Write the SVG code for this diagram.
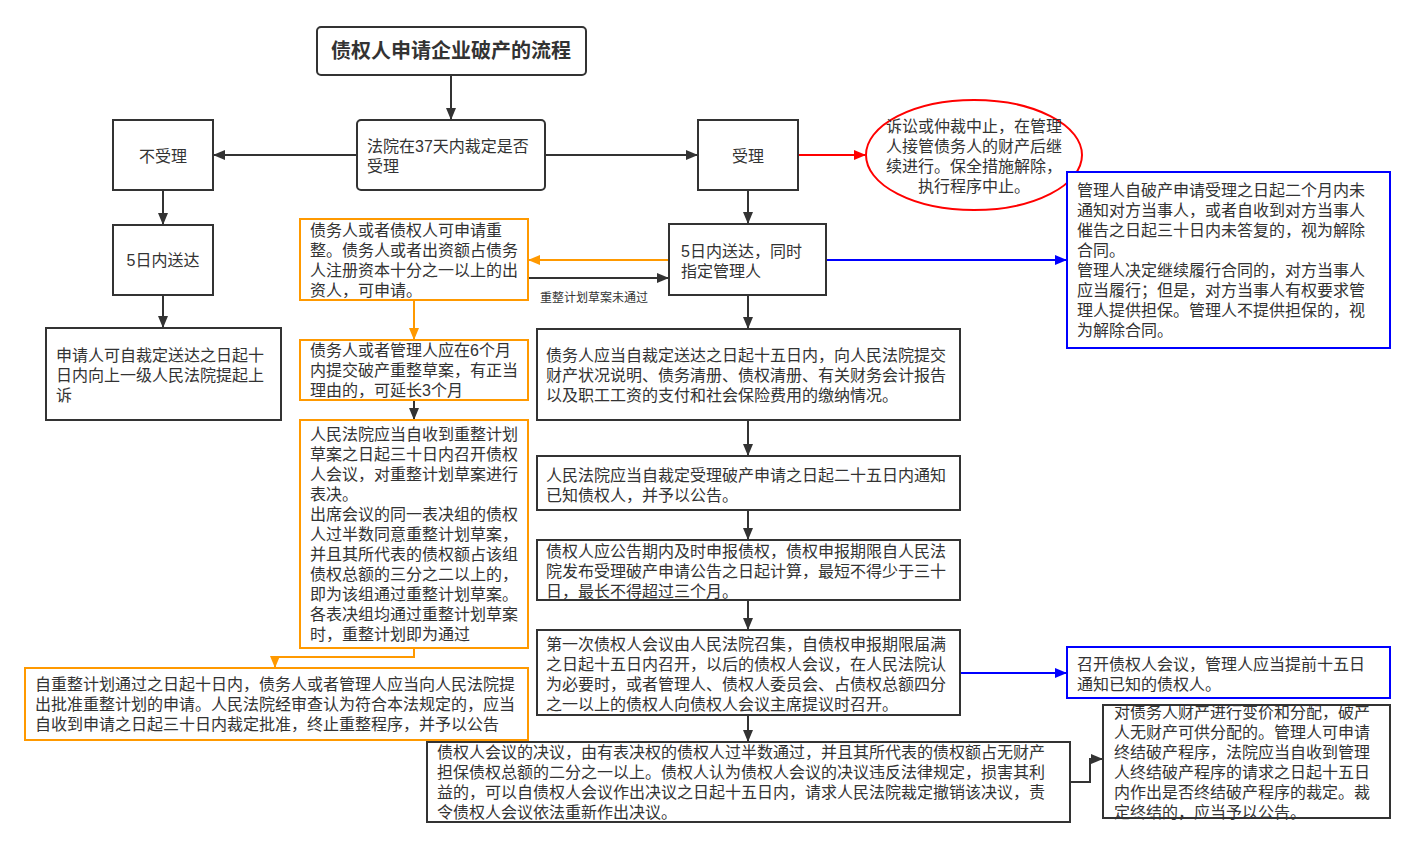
<svg xmlns="http://www.w3.org/2000/svg" width="1415" height="848" viewBox="0 0 1415 848">
<style>
.box{fill:#fff;stroke:#333;stroke-width:2}
.obox{fill:#fff;stroke:#FF9900;stroke-width:2}
.bbox{fill:#fff;stroke:#0000FF;stroke-width:2}
.t{font-family:"Liberation Sans","Noto Sans CJK SC",sans-serif;font-size:16px;fill:#333}
.c{text-anchor:middle}
.lk{fill:none;stroke:#333;stroke-width:2}
.lo{fill:none;stroke:#FF9900;stroke-width:2}
.lb{fill:none;stroke:#0000FF;stroke-width:2}
.lr{fill:none;stroke:#FF0000;stroke-width:2}
</style>
<defs>
<marker id="ak" markerUnits="userSpaceOnUse" markerWidth="12" markerHeight="10" refX="11" refY="5" orient="auto"><path d="M0,0 L12,5 L0,10 Z" fill="#333"/></marker>
<marker id="ao" markerUnits="userSpaceOnUse" markerWidth="12" markerHeight="10" refX="11" refY="5" orient="auto"><path d="M0,0 L12,5 L0,10 Z" fill="#FF9900"/></marker>
<marker id="ab" markerUnits="userSpaceOnUse" markerWidth="12" markerHeight="10" refX="11" refY="5" orient="auto"><path d="M0,0 L12,5 L0,10 Z" fill="#0000FF"/></marker>
<marker id="ar" markerUnits="userSpaceOnUse" markerWidth="12" markerHeight="10" refX="11" refY="5" orient="auto"><path d="M0,0 L12,5 L0,10 Z" fill="#FF0000"/></marker>
</defs>
<rect width="1415" height="848" fill="#fff"/>

<g id="connectors">
<path class="lk" d="M451,75 V119" marker-end="url(#ak)"/>
<path class="lk" d="M357,155 H214" marker-end="url(#ak)"/>
<path class="lk" d="M545,155 H697" marker-end="url(#ak)"/>
<path class="lr" d="M798,155 H865" marker-end="url(#ar)"/>
<path class="lk" d="M163,190 V224" marker-end="url(#ak)"/>
<path class="lk" d="M163,295 V327" marker-end="url(#ak)"/>
<path class="lk" d="M748,190 V223" marker-end="url(#ak)"/>
<path class="lb" d="M826,260 H1066" marker-end="url(#ab)"/>
<path class="lo" d="M669,260 H529" marker-end="url(#ao)"/>
<path class="lk" d="M528,278 H668" marker-end="url(#ak)"/>
<text class="t" x="540" y="302" style="font-size:12px">重整计划草案未通过</text>
<path class="lo" d="M414,300 V339" marker-end="url(#ao)"/>
<path class="lk" d="M414,400 V419" marker-end="url(#ak)"/>
<path class="lo" d="M414,648 V657 H275 V667" marker-end="url(#ao)"/>
<path class="lk" d="M748,295 V328" marker-end="url(#ak)"/>
<path class="lk" d="M748,420 V455" marker-end="url(#ak)"/>
<path class="lk" d="M748,510 V539" marker-end="url(#ak)"/>
<path class="lk" d="M748,600 V629" marker-end="url(#ak)"/>
<path class="lb" d="M960,673 H1066" marker-end="url(#ab)"/>
<path class="lk" d="M748,715 V741" marker-end="url(#ak)"/>
<path class="lk" d="M1070,782 H1090 V759 H1102" marker-end="url(#ak)"/>
</g>

<g id="title">
<rect class="box" x="317" y="27" width="269" height="48" rx="4"/>
<text class="t c" x="451" y="58" style="font-size:20px;font-weight:bold">债权人申请企业破产的流程</text>
</g>

<g id="court">
<rect class="box" x="357" y="120" width="188" height="70" rx="4"/>
<text class="t" x="367" y="152">法院在37天内裁定是否<tspan x="367" dy="20">受理</tspan></text>
</g>

<g id="reject">
<rect class="box" x="113" y="120" width="100" height="70"/>
<text class="t c" x="163" y="162">不受理</text>
</g>

<g id="accept">
<rect class="box" x="698" y="120" width="100" height="70"/>
<text class="t c" x="748" y="162">受理</text>
</g>

<g id="suspend">
<ellipse cx="974" cy="155" rx="108" ry="55" fill="#fff" stroke="#FF0000" stroke-width="2"/>
<text class="t c" x="974" y="132">诉讼或仲裁中止，在管理<tspan x="974" dy="20">人接管债务人的财产后继</tspan><tspan x="974" dy="20">续进行。保全措施解除，</tspan><tspan x="974" dy="20">执行程序中止。</tspan></text>
</g>

<g id="contract">
<rect class="bbox" x="1067" y="172" width="323" height="176"/>
<text class="t" x="1077" y="196">管理人自破产申请受理之日起二个月内未<tspan x="1077" dy="20">通知对方当事人，或者自收到对方当事人</tspan><tspan x="1077" dy="20">催告之日起三十日内未答复的，视为解除</tspan><tspan x="1077" dy="20">合同。</tspan><tspan x="1077" dy="20">管理人决定继续履行合同的，对方当事人</tspan><tspan x="1077" dy="20">应当履行；但是，对方当事人有权要求管</tspan><tspan x="1077" dy="20">理人提供担保。管理人不提供担保的，视</tspan><tspan x="1077" dy="20">为解除合同。</tspan></text>
</g>

<g id="deliver-left">
<rect class="box" x="113" y="225" width="100" height="70"/>
<text class="t c" x="163" y="266">5日内送达</text>
</g>

<g id="appeal">
<rect class="box" x="46" y="328" width="235" height="92"/>
<text class="t" x="56" y="361">申请人可自裁定送达之日起十<tspan x="56" dy="20">日内向上一级人民法院提起上</tspan><tspan x="56" dy="20">诉</tspan></text>
</g>

<g id="deliver-right">
<rect class="box" x="669" y="224" width="157" height="71"/>
<text class="t" x="681" y="257">5日内送达，同时<tspan x="681" dy="20">指定管理人</tspan></text>
</g>

<g id="reorg-apply">
<rect class="obox" x="300" y="219" width="228" height="81"/>
<text class="t" x="310" y="236">债务人或者债权人可申请重<tspan x="310" dy="20">整。债务人或者出资额占债务</tspan><tspan x="310" dy="20">人注册资本十分之一以上的出</tspan><tspan x="310" dy="20">资人，可申请。</tspan></text>
</g>

<g id="reorg-draft">
<rect class="obox" x="300" y="340" width="228" height="60"/>
<text class="t" x="310" y="356">债务人或者管理人应在6个月<tspan x="310" dy="20">内提交破产重整草案，有正当</tspan><tspan x="310" dy="20">理由的，可延长3个月</tspan></text>
</g>

<g id="reorg-vote">
<rect class="obox" x="300" y="420" width="228" height="228"/>
<text class="t" x="310" y="440">人民法院应当自收到重整计划<tspan x="310" dy="20">草案之日起三十日内召开债权</tspan><tspan x="310" dy="20">人会议，对重整计划草案进行</tspan><tspan x="310" dy="20">表决。</tspan><tspan x="310" dy="20">出席会议的同一表决组的债权</tspan><tspan x="310" dy="20">人过半数同意重整计划草案，</tspan><tspan x="310" dy="20">并且其所代表的债权额占该组</tspan><tspan x="310" dy="20">债权总额的三分之二以上的，</tspan><tspan x="310" dy="20">即为该组通过重整计划草案。</tspan><tspan x="310" dy="20">各表决组均通过重整计划草案</tspan><tspan x="310" dy="20">时，重整计划即为通过</tspan></text>
</g>

<g id="reorg-approve">
<rect class="obox" x="25" y="668" width="503" height="72"/>
<text class="t" x="35" y="690">自重整计划通过之日起十日内，债务人或者管理人应当向人民法院提<tspan x="35" dy="20">出批准重整计划的申请。人民法院经审查认为符合本法规定的，应当</tspan><tspan x="35" dy="20">自收到申请之日起三十日内裁定批准，终止重整程序，并予以公告</tspan></text>
</g>

<g id="submit">
<rect class="box" x="537" y="329" width="423" height="91"/>
<text class="t" x="546" y="361">债务人应当自裁定送达之日起十五日内，向人民法院提交<tspan x="546" dy="20">财产状况说明、债务清册、债权清册、有关财务会计报告</tspan><tspan x="546" dy="20">以及职工工资的支付和社会保险费用的缴纳情况。</tspan></text>
</g>

<g id="notify">
<rect class="box" x="537" y="456" width="423" height="54"/>
<text class="t" x="546" y="481">人民法院应当自裁定受理破产申请之日起二十五日内通知<tspan x="546" dy="20">已知债权人，并予以公告。</tspan></text>
</g>

<g id="declare">
<rect class="box" x="537" y="540" width="423" height="60"/>
<text class="t" x="546" y="557">债权人应公告期内及时申报债权，债权申报期限自人民法<tspan x="546" dy="20">院发布受理破产申请公告之日起计算，最短不得少于三十</tspan><tspan x="546" dy="20">日，最长不得超过三个月。</tspan></text>
</g>

<g id="meeting">
<rect class="box" x="537" y="630" width="423" height="85"/>
<text class="t" x="546" y="650">第一次债权人会议由人民法院召集，自债权申报期限届满<tspan x="546" dy="20">之日起十五日内召开，以后的债权人会议，在人民法院认</tspan><tspan x="546" dy="20">为必要时，或者管理人、债权人委员会、占债权总额四分</tspan><tspan x="546" dy="20">之一以上的债权人向债权人会议主席提议时召开。</tspan></text>
</g>

<g id="meeting-notice">
<rect class="bbox" x="1067" y="647" width="323" height="51"/>
<text class="t" x="1077" y="670">召开债权人会议，管理人应当提前十五日<tspan x="1077" dy="20">通知已知的债权人。</tspan></text>
</g>

<g id="resolution">
<rect class="box" x="427" y="742" width="643" height="80"/>
<text class="t" x="437" y="758">债权人会议的决议，由有表决权的债权人过半数通过，并且其所代表的债权额占无财产<tspan x="437" dy="20">担保债权总额的二分之一以上。债权人认为债权人会议的决议违反法律规定，损害其利</tspan><tspan x="437" dy="20">益的，可以自债权人会议作出决议之日起十五日内，请求人民法院裁定撤销该决议，责</tspan><tspan x="437" dy="20">令债权人会议依法重新作出决议。</tspan></text>
</g>

<g id="terminate">
<rect class="box" x="1103" y="705" width="287" height="113"/>
<text class="t" x="1114" y="718">对债务人财产进行变价和分配，破产<tspan x="1114" dy="20">人无财产可供分配的。管理人可申请</tspan><tspan x="1114" dy="20">终结破产程序，法院应当自收到管理</tspan><tspan x="1114" dy="20">人终结破产程序的请求之日起十五日</tspan><tspan x="1114" dy="20">内作出是否终结破产程序的裁定。裁</tspan><tspan x="1114" dy="20">定终结的，应当予以公告。</tspan></text>
</g>
</svg>
